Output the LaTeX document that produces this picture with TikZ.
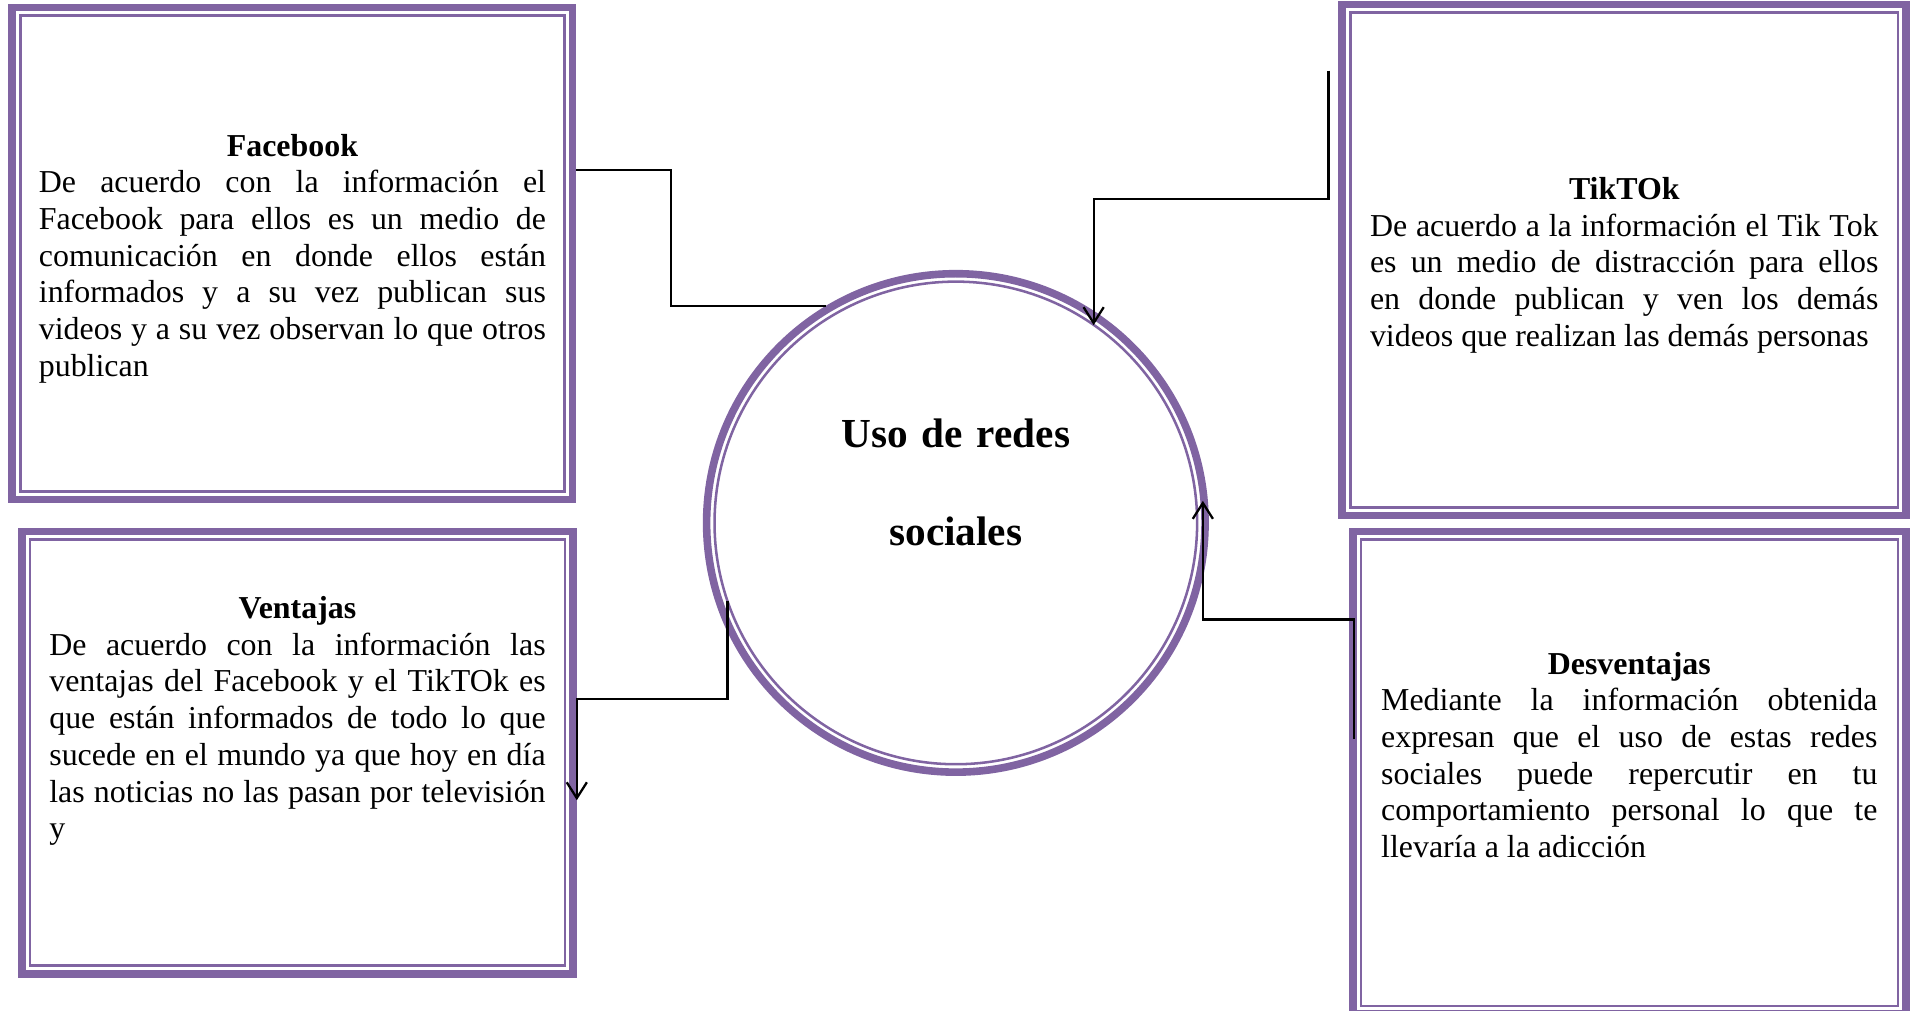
\documentclass[tikz,border=0pt]{standalone}
\usepackage{fontspec}
\setmainfont{Liberation Serif}
\usetikzlibrary{arrows.meta}
\definecolor{lila}{HTML}{8064A2}

\begin{document}
\begin{tikzpicture}[
  caja/.style={draw=lila, line width=3pt, rectangle},
  interior/.style={draw=lila, line width=1pt},
  texto/.style={inner sep=0pt, align=justify, font=\fontsize{12.6}{14.5}\selectfont,
    execute at begin node={\parindent=0pt\hyphenpenalty=10000}},
  titulo/.style={inner sep=0pt, text width=5cm, align=center, font=\fontsize{16.3}{38.6}\selectfont\bfseries},
  conector/.style={line width=0.9pt},
  flecha/.style={line width=0.9pt, -{Straight Barb[length=2.2mm,width=2.8mm]}}]
\useasboundingbox (0,0) rectangle (26.6,14.03);
% Draw the four boxes
\node[caja, minimum width=7.78cm, minimum height=6.83cm] (fb) at (4.06,10.51) {};
\node[caja, minimum width=7.83cm, minimum height=7.09cm] (tt) at (22.55,10.42) {};
\node[caja, minimum width=7.65cm, minimum height=6.14cm] (vt) at (4.13,3.58) {};
\node[caja, minimum width=7.68cm, minimum height=6.70cm] (dv) at (22.62,3.30) {};
% Draw the thin inner line of each box
\draw[interior] ([shift={(0.165,-0.165)}]fb.north west) rectangle ([shift={(-0.165,0.165)}]fb.south east);
\draw[interior] ([shift={(0.165,-0.165)}]tt.north west) rectangle ([shift={(-0.165,0.165)}]tt.south east);
\draw[interior] ([shift={(0.165,-0.165)}]vt.north west) rectangle ([shift={(-0.165,0.165)}]vt.south east);
\draw[interior] ([shift={(0.165,-0.165)}]dv.north west) rectangle ([shift={(-0.165,0.165)}]dv.south east);
% Draw the central circle
\node[draw=lila, line width=3pt, circle, minimum size=6.92cm] (uso) at (13.27,6.77) {};
\draw[interior] (uso.center) circle (3.35cm);
\node[titulo] (tit) at ([yshift=0.56cm]uso.center) {Uso de redes\\sociales};
% Write the texts of the boxes
\node[texto, text width=7.04cm] (fbtxt) at ([yshift=-0.07cm]fb.center) {{\centering\textbf{Facebook}\par}De acuerdo con la información el\linebreak Facebook para ellos es un medio de\linebreak comunicación en donde ellos están\linebreak informados y a su vez publican sus\linebreak videos y a su vez observan lo que otros\linebreak publican};
\node[texto, text width=7.06cm] (tttxt) at ([yshift=-0.07cm]tt.center) {{\centering\textbf{TikTOk}\par}De acuerdo a la información el Tik Tok\linebreak es un medio de distracción para ellos\linebreak en donde publican y ven los demás\linebreak videos que realizan las demás personas};
\node[texto, text width=6.89cm] (vttxt) at ([yshift=0.44cm]vt.center) {{\centering\textbf{Ventajas}\par}De acuerdo con la información las\linebreak ventajas del Facebook y el TikTOk es\linebreak que están informados de todo lo que\linebreak sucede en el mundo ya que hoy en día\linebreak las noticias no las pasan por televisión\linebreak y};
\node[texto, text width=6.89cm] (dvtxt) at ([yshift=0.25cm]dv.center) {{\centering\textbf{Desventajas}\par}Mediante la información obtenida\linebreak expresan que el uso de estas redes\linebreak sociales puede repercutir en tu\linebreak comportamiento personal lo que te\linebreak llevaría a la adicción};
% Draw the connectors between the boxes and the circle
\draw[conector] ([yshift=1.16cm]fb.east) -- ++(1.31,0) |- (uso.121);
\draw[flecha, shorten >=-0.2cm] ([xshift=-0.14cm,yshift=2.63cm]tt.west) -- ++(0,-1.78) -| (uso.57);
\draw[flecha] ([xshift=0.07cm,yshift=0.47cm]dv.west) -- ++(0,1.66) -| ([xshift=-0.07cm]uso.5);
\draw[flecha] ([xshift=0.17cm]uso.198) -- ++(0,-1.36) -| ([yshift=-0.66cm]vt.east);
\end{tikzpicture}
\end{document}
